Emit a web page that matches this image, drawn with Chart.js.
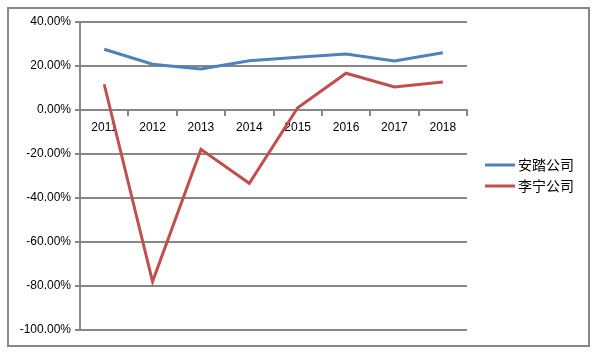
<!DOCTYPE html>
<html>
<head>
<meta charset="utf-8">
<script src="https://cdn.jsdelivr.net/npm/chart.js@4/dist/chart.umd.min.js"></script>
<style>
  html, body { margin: 0; padding: 0; background: #fff; }
  #frame {
    position: absolute; left: 7px; top: 7px;
    width: 579px; height: 336px;
    border: 2px solid #878787;
  }
  #wrap { position: absolute; left: 0; top: 0; width: 594px; height: 354px; }
</style>
</head>
<body>
<div id="frame"></div>
<div id="wrap"><canvas id="growthChart"></canvas></div>
<script>
// years on the x axis
const years = ['2011', '2012', '2013', '2014', '2015', '2016', '2017', '2018'];

// growth rates, in percent
const antaGrowth = [27.6, 20.8, 18.6, 22.4, 24.0, 25.5, 22.3, 26.0];
const liningGrowth = [11.7, -78.0, -17.9, -33.3, 1.0, 16.7, 10.5, 12.7];

const seriesNames = ['安踏公司', '李宁公司'];
const seriesColors = ['#4F81BD', '#C0504D'];

const gridGray = '#878787';

// small legend drawn beside the plot, Excel style (line sample + text)
const sideLegend = {
    id: 'sideLegend',
    afterDraw(chart) {
        const c = chart.ctx;
        const x0 = chart.chartArea.right + 18;
        const y0 = 165;
        c.save();
        c.font = '14px "Noto Sans CJK SC"';
        c.textBaseline = 'middle';
        c.textAlign = 'left';
        chart.data.datasets.forEach((ds, i) => {
            const y = y0 + i * 21;
            c.strokeStyle = ds.borderColor;
            c.lineWidth = 3;
            c.beginPath();
            c.moveTo(x0, y);
            c.lineTo(x0 + 30, y);
            c.stroke();
            c.fillStyle = '#000';
            c.fillText(ds.label, x0 + 33, y);
        });
        c.restore();
    }
};

const ctx = document.getElementById('growthChart').getContext('2d');
const chart = new Chart(ctx, {
    type: 'line',
    data: {
        labels: years,
        datasets: [
            {
                label: seriesNames[0],
                data: antaGrowth,
                borderColor: seriesColors[0],
                backgroundColor: seriesColors[0],
                borderWidth: 3,
                pointRadius: 0,
                tension: 0
            },
            {
                label: seriesNames[1],
                data: liningGrowth,
                borderColor: seriesColors[1],
                backgroundColor: seriesColors[1],
                borderWidth: 3,
                pointRadius: 0,
                tension: 0
            }
        ]
    },
    options: {
        responsive: true,
        maintainAspectRatio: false,
        animation: false,
        layout: {
            padding: { left: 0, right: 127, top: 22, bottom: 24 }
        },
        scales: {
            x: {
                position: { y: 0 },
                offset: true,
                grid: {
                    offset: true,
                    drawOnChartArea: false,
                    drawTicks: true,
                    tickLength: 5,
                    color: gridGray,
                    lineWidth: 2
                },
                border: { color: gridGray, width: 2 },
                ticks: {
                    color: '#000',
                    padding: 5,
                    maxRotation: 0,
                    font: { family: 'Liberation Sans', size: 12 }
                }
            },
            y: {
                min: -100,
                max: 40,
                afterFit: (scale) => { scale.width = 80; },
                grid: {
                    color: gridGray,
                    lineWidth: 2,
                    tickLength: 5
                },
                border: { color: gridGray, width: 2 },
                ticks: {
                    stepSize: 20,
                    color: '#000',
                    padding: 4,
                    font: { family: 'Liberation Sans', size: 12 },
                    callback: (v) => v.toFixed(2) + '%'
                }
            }
        },
        plugins: {
            tooltip: { enabled: false },
            legend: { display: false }
        }
    },
    plugins: [sideLegend]
});
</script>
</body>
</html>
